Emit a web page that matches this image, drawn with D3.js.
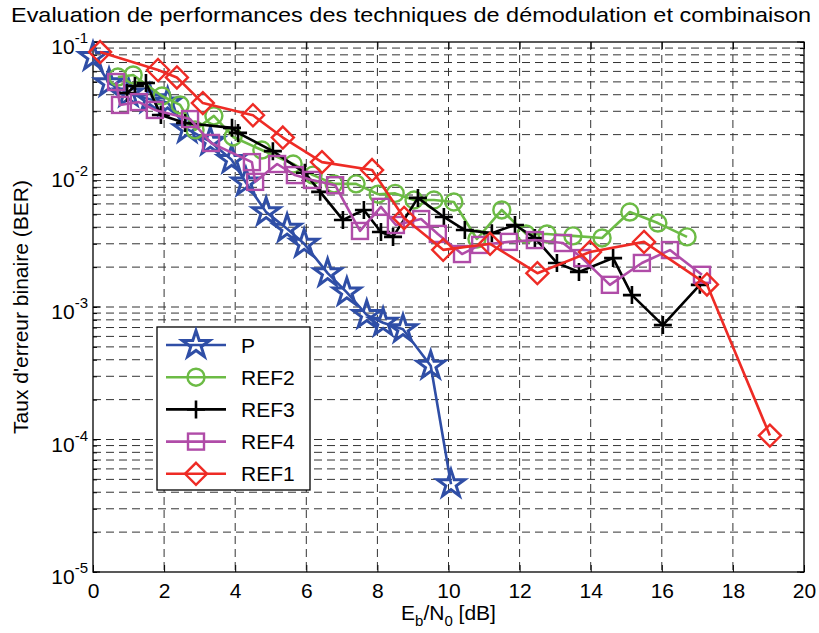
<!DOCTYPE html>
<html><head><meta charset="utf-8">
<script src="https://cdn.jsdelivr.net/npm/d3@7"></script>
<style>body{margin:0;background:#fff}svg{display:block}</style>
</head><body>
<svg id="c" width="819" height="633"></svg>
<script>
// ---- data ----
const pX    = [0,0.45,1.0,1.6,2.1,2.65,3.3,3.9,4.3,4.87,5.46,5.94,6.6,7.14,7.7,8.16,8.72,9.5,10.07];
const pY    = [0.077,0.049,0.041,0.037,0.035,0.022,0.0177,0.0129,0.0087,0.0052,0.0039,0.003,0.0018,0.00129,0.00087,0.00076,0.00068,0.00036,0.000046];
const ref2X = [0.7,1.13,1.94,2.45,2.87,3.4,3.94,4.75,5.63,6.19,6.78,7.4,8.02,8.5,9.03,9.59,10.15,10.8,11.5,12.18,12.77,13.5,14.32,15.1,15.89,16.71];
const ref2Y = [0.0544,0.0564,0.0391,0.0335,0.0217,0.0277,0.0192,0.0153,0.012,0.0099,0.0085,0.0085,0.0071,0.0072,0.00642,0.00642,0.0062,0.00326,0.0054,0.00356,0.00356,0.00344,0.00332,0.00521,0.0043,0.00338];
const ref3X = [0.96,1.18,1.49,1.91,2.59,3.91,4.08,5.06,5.96,6.39,7.03,7.62,8.1,8.44,9.14,9.87,10.46,11.22,11.87,12.43,13.05,13.67,14.63,15.16,16.03,17.07];
const ref3Y = [0.0412,0.0466,0.0491,0.0281,0.0245,0.0225,0.0206,0.015,0.0103,0.0074,0.00454,0.0054,0.00368,0.00338,0.00666,0.00478,0.00381,0.00361,0.00416,0.00332,0.00215,0.00184,0.00234,0.00123,0.00073,0.00147];
const ref4X = [0.65,0.76,1.29,1.74,2.73,3.32,4.47,4.56,5.18,5.68,6.16,6.81,7.51,8.1,8.52,9.23,9.7,10.38,10.89,11.7,12.43,13.22,13.76,14.54,15.44,16.23,17.13];
const ref4Y = [0.0499,0.0335,0.0352,0.0307,0.0262,0.0173,0.0124,0.0088,0.012,0.0099,0.0091,0.0083,0.00375,0.0057,0.00416,0.00461,0.00356,0.00251,0.00294,0.0031,0.0032,0.00304,0.00234,0.00147,0.00215,0.00269,0.00175];
const ref1X = [0.2,1.83,2.36,3.09,4.5,5.34,6.44,7.85,8.75,9.85,11.17,12.5,13.98,15.5,17.27,19.04];
const ref1Y = [0.084,0.0615,0.054,0.0346,0.028,0.019,0.0124,0.0108,0.0047,0.0027,0.003,0.0018,0.0026,0.0031,0.00148,0.000107];
const xTicks = [0,2,4,6,8,10,12,14,16,18,20];
const yTickExps = [-1,-2,-3,-4,-5];
const seriesNames = ["P","REF2","REF3","REF4","REF1"];
const seriesColors = ["#2f4ea6","#6cbb45","#000000","#b04ca8","#ee2b25"];
const seriesMarkers = ["star","circle","plus","square","diamond"];

const series = [
  {x:pX,y:pY},{x:ref2X,y:ref2Y},{x:ref3X,y:ref3Y},{x:ref4X,y:ref4Y},{x:ref1X,y:ref1Y}
].map((s,i)=>({name:seriesNames[i],color:seriesColors[i],marker:seriesMarkers[i],pts:s.x.map((v,j)=>[v,s.y[j]])}));

// ---- layout ----
const L=93,R=804,T=42,B=572;
const svg=d3.select("#c");
const x=d3.scaleLinear().domain([0,20]).range([L,R]);
const y=d3.scaleLog().domain([1e-5,1e-1]).range([B,T]);
const font="'Liberation Sans',Arial,sans-serif";
const fs=21;

// grid
const g=svg.append("g");
const dash="8,5";
xTicks.slice(1,-1).forEach(t=>{
  g.append("line").attr("x1",x(t)).attr("x2",x(t)).attr("y1",T).attr("y2",B)
   .attr("stroke","#333").attr("stroke-width",1).attr("stroke-dasharray",dash);
});
const yGrid=[];
for(let e=-5;e<-1;e++){for(let m=1;m<10;m++){yGrid.push(m*Math.pow(10,e));}}
yGrid.push(1e-1);
yGrid.filter(v=>v>1e-5*1.01 && v<1e-1*0.99).forEach(v=>{
  g.append("line").attr("x1",L).attr("x2",R).attr("y1",y(v)).attr("y2",y(v))
   .attr("stroke","#333").attr("stroke-width",1).attr("stroke-dasharray",dash);
});

// axes frame & ticks
svg.append("rect").attr("x",L).attr("y",T).attr("width",R-L).attr("height",B-T)
  .attr("fill","none").attr("stroke","#000").attr("stroke-width",1.3);
const ax=svg.append("g").attr("transform",`translate(0,${B})`)
  .call(d3.axisBottom(x).tickValues(xTicks).tickSizeInner(-7).tickSizeOuter(0).tickPadding(11).tickFormat(d3.format("d")));
ax.select(".domain").remove();
ax.selectAll("text").attr("font-family",font).attr("font-size",fs).attr("fill","#000");
const axT=svg.append("g").attr("transform",`translate(0,${T})`)
  .call(d3.axisTop(x).tickValues(xTicks).tickSizeInner(-7).tickSizeOuter(0).tickFormat(""));
axT.select(".domain").remove();
const ayL=svg.append("g").attr("transform",`translate(${L},0)`)
  .call(d3.axisLeft(y).tickValues(yGrid).tickSizeInner(-4).tickSizeOuter(0).tickFormat(""));
ayL.select(".domain").remove();
const ayR=svg.append("g").attr("transform",`translate(${R},0)`)
  .call(d3.axisRight(y).tickValues(yGrid).tickSizeInner(-4).tickSizeOuter(0).tickFormat(""));
ayR.select(".domain").remove();
yTickExps.forEach(e=>{
  const v=Math.pow(10,e);
  [[L,7],[R,-7]].forEach(([xx,d])=>svg.append("line").attr("x1",xx).attr("x2",xx+d).attr("y1",y(v)).attr("y2",y(v)).attr("stroke","#000"));
  const t=svg.append("text").attr("x",L-5).attr("y",y(v)+12).attr("text-anchor","end")
    .attr("font-family",font).attr("font-size",fs).attr("fill","#000");
  t.append("tspan").text("10");
  t.append("tspan").attr("dy",-11).attr("font-size",15).text(String(e));
});

// title & labels
svg.append("text").attr("x",411).attr("y",22).attr("text-anchor","middle")
  .attr("font-family",font).attr("font-size",21).attr("fill","#000")
  .attr("textLength",800).attr("lengthAdjust","spacingAndGlyphs")
  .text("Evaluation de performances des techniques de démodulation et combinaison");
const xl=svg.append("text").attr("x",(L+R)/2).attr("y",620).attr("text-anchor","middle")
  .attr("font-family",font).attr("font-size",fs).attr("fill","#000");
xl.append("tspan").text("E");
xl.append("tspan").attr("dy",6).attr("font-size",15).text("b");
xl.append("tspan").attr("dy",-6).text("/N");
xl.append("tspan").attr("dy",6).attr("font-size",15).text("0");
xl.append("tspan").attr("dy",-6).text(" [dB]");
svg.append("text").attr("transform",`translate(28,${(T+B)/2}) rotate(-90)`).attr("text-anchor","middle")
  .attr("font-family",font).attr("font-size",fs).attr("fill","#000").text("Taux d'erreur binaire (BER)");

// markers
function drawMarker(sel,type,color){
  if(type==="star"){
    sel.append("path").attr("d",d3.symbol(d3.symbolStar,230)()).attr("fill","none").attr("stroke",color).attr("stroke-width",3);
  } else if(type==="circle"){
    sel.append("circle").attr("r",8.5).attr("fill","none").attr("stroke",color).attr("stroke-width",2.4);
  } else if(type==="plus"){
    sel.append("path").attr("d","M-9,0H9M0,-9V9").attr("stroke",color).attr("stroke-width",2.6);
  } else if(type==="square"){
    sel.append("rect").attr("x",-8).attr("y",-8).attr("width",16).attr("height",16).attr("fill","none").attr("stroke",color).attr("stroke-width",2.4);
  } else if(type==="diamond"){
    sel.append("path").attr("d","M0,-11L11,0L0,11L-11,0Z").attr("fill","none").attr("stroke",color).attr("stroke-width",2.4);
  }
}
const line=d3.line().x(d=>x(d[0])).y(d=>y(d[1]));
series.forEach(s=>{
  const sg=svg.append("g");
  sg.append("path").attr("d",line(s.pts)).attr("fill","none").attr("stroke",s.color).attr("stroke-width",2.6).attr("stroke-linejoin","round");
  s.pts.forEach(p=>drawMarker(sg.append("g").attr("transform",`translate(${x(p[0])},${y(p[1])})`),s.marker,s.color));
});

// legend
const lg=svg.append("g");
lg.append("rect").attr("x",157).attr("y",327).attr("width",153).attr("height",163).attr("fill","#fff").attr("stroke","#000").attr("stroke-width",1.3);
series.forEach((s,i)=>{
  const yy=345+i*32.2;
  lg.append("line").attr("x1",166).attr("x2",226).attr("y1",yy).attr("y2",yy).attr("stroke",s.color).attr("stroke-width",2.6);
  drawMarker(lg.append("g").attr("transform",`translate(196,${yy})`),s.marker,s.color);
  lg.append("text").attr("x",241).attr("y",yy+7.5).attr("font-family",font).attr("font-size",fs).attr("fill","#000").text(s.name);
});
</script>
</body></html>
